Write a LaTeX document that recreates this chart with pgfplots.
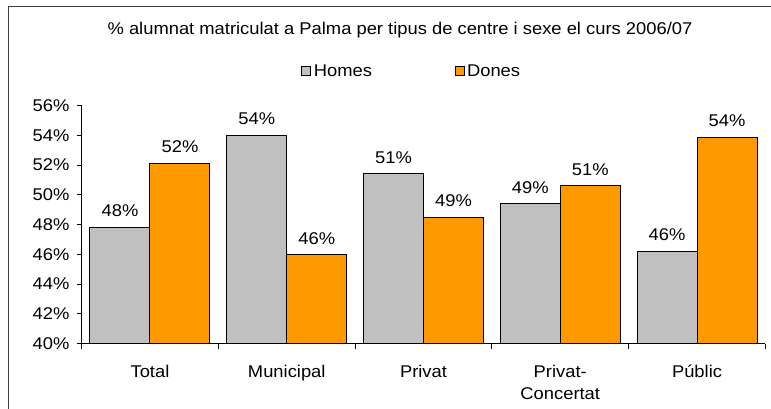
\documentclass[border=0pt]{standalone}
\usepackage{pgfplots}
\pgfplotsset{compat=1.18}
\usepackage{fontspec}
\setmainfont[FakeStretch=1.08]{Liberation Sans}
\definecolor{hgray}{HTML}{C0C0C0}
\definecolor{dorange}{HTML}{FF9900}
\newcommand\xl{\rule{0pt}{12.5pt}}
\pgfplotstableread{
x y lab
0 47.8 48
1 54.0 54
2 51.4 51
3 49.4 49
4 46.2 46
}\homes
\pgfplotstableread{
x y lab
0 52.1 52
1 45.95 46
2 48.5 49
3 50.6 51
4 53.85 54
}\dones
\begin{document}
\begin{tikzpicture}[x=1pt,y=1pt]
\useasboundingbox (0,0) rectangle (771,408);
\draw[line width=1pt, black!75] (8,-5) -- (8,401) -- (780,401);
\begin{axis}[
  at={(81.6pt,64.5pt)}, anchor=south west,
  scale only axis, width=683.8pt, height=238pt,
  xmin=-0.5, xmax=4.5, ymin=40, ymax=56,
  axis x line*=bottom, axis y line*=left,
  axis line style={line width=0.8pt},
  ybar, bar width=60pt,
  xtick={0,1,2,3,4},
  xticklabels={\xl Total, \xl Municipal, \xl Privat, {\xl Privat-\\Concertat}, \xl Públic},
  major x tick style={draw=none},
  minor xtick={-0.5,0.5,1.5,2.5,3.5,4.5},
  minor x tick style={draw=black, line width=0.8pt},
  ytick={40,42,...,56},
  yticklabels={40\%,42\%,44\%,46\%,48\%,50\%,52\%,54\%,56\%},
  major y tick style={draw=black, line width=0.8pt},
  tick align=outside, major tick length=5pt, minor tick length=5pt,
  tick label style={font=\fontsize{17}{21.5}\selectfont, text=black},
  xticklabel style={anchor=north, inner sep=0pt, yshift=-16.5pt, align=center},
  yticklabel style={anchor=east, inner sep=0pt, xshift=-7pt},
  nodes near coords={\pgfplotspointmeta\%},
  point meta=explicit symbolic,
  every node near coord/.append style={font=\fontsize{17}{20}\selectfont, anchor=south, inner sep=0pt, yshift=10pt, text=black},
  legend style={at={(0.4832,1.145)}, anchor=center, draw=none, fill=none,
    legend columns=2, font=\fontsize{17}{20}\selectfont,
    nodes={inner sep=2.5pt},
    /tikz/every even column/.append style={column sep=80pt}},
  legend image code/.code={\draw[#1] (0pt,-4.5pt) rectangle (9pt,4.5pt);},
]
\addplot[fill=hgray, draw=black, line width=1pt, bar shift=-30pt] table[x=x, y=y, meta=lab] {\homes};
\addplot[fill=dorange, draw=black, line width=1pt, bar shift=30pt] table[x=x, y=y, meta=lab] {\dones};
\legend{Homes, Dones}
\end{axis}
\node[font=\fontsize{17}{20}\selectfont] at (400,378) {\% alumnat matriculat a Palma per tipus de centre i sexe el curs 2006/07};
\end{tikzpicture}
\end{document}
